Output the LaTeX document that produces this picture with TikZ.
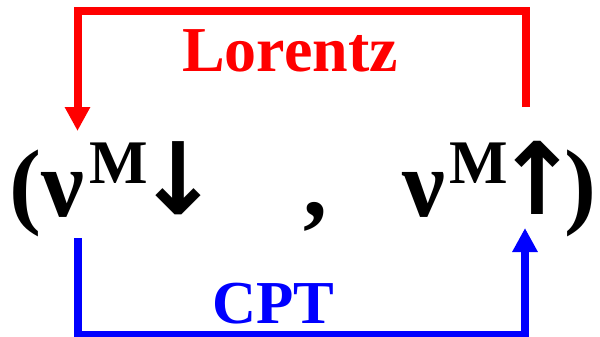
\documentclass[tikz,border=0pt]{standalone}
\usepackage{fontspec}
\setmainfont{Liberation Serif}
\newfontfamily\arrowfont{DejaVu Sans}
\usetikzlibrary{arrows.meta}
\begin{document}
\begin{tikzpicture}[x=1pt,y=-1pt,
  mainsym/.style={anchor=base,inner sep=0pt,font=\fontsize{96}{96}\selectfont\bfseries},
  supsym/.style={anchor=base,inner sep=0pt,font=\fontsize{62}{62}\selectfont\bfseries},
  arrsym/.style={anchor=center,inner sep=0pt,font=\fontsize{100}{100}\arrowfont\bfseries},
  lbl/.style={anchor=base,inner sep=0pt,font=\fontsize{#1}{#1}\selectfont\bfseries},
  conn/.style={line width=8pt,line join=miter,-{Triangle[width=24pt,length=24pt]}}
]
\useasboundingbox (0,0) rectangle (600,337);
% formula
\node[mainsym] (lp) at (25,216) {(};
\node[mainsym] (nuL) at (63,216) {ν};
\node[supsym] (mL) at (119,183) {M};
\node[arrsym] (dn) at (178.5,178) {\makebox[36pt][c]{↓}};
\node[mainsym] (comma) at (315,216) {,};
\node[mainsym] (nuR) at (423.5,216) {ν};
\node[supsym] (mR) at (479,183) {M};
\node[arrsym] (up) at (537.5,178) {\makebox[36pt][c]{↑}};
\node[mainsym] (rp) at (580.5,216) {)};
% labels
\node[lbl=64,text=red] (lor) at (290,72) {Lorentz};
\node[lbl=61,text=blue] (cpt) at (273,323) {CPT};
% connectors
\coordinate (rs) at (526,107);
\coordinate (rt) at (77.5,131);
\coordinate (bs) at (77.5,238);
\coordinate (bt) at (525,228);
\draw[conn,red] (rs) -- (rs |- 0,11) -| (rt);
\draw[conn,blue] (bs) -- (bs |- 0,334.5) -| (bt);
\end{tikzpicture}
\end{document}
